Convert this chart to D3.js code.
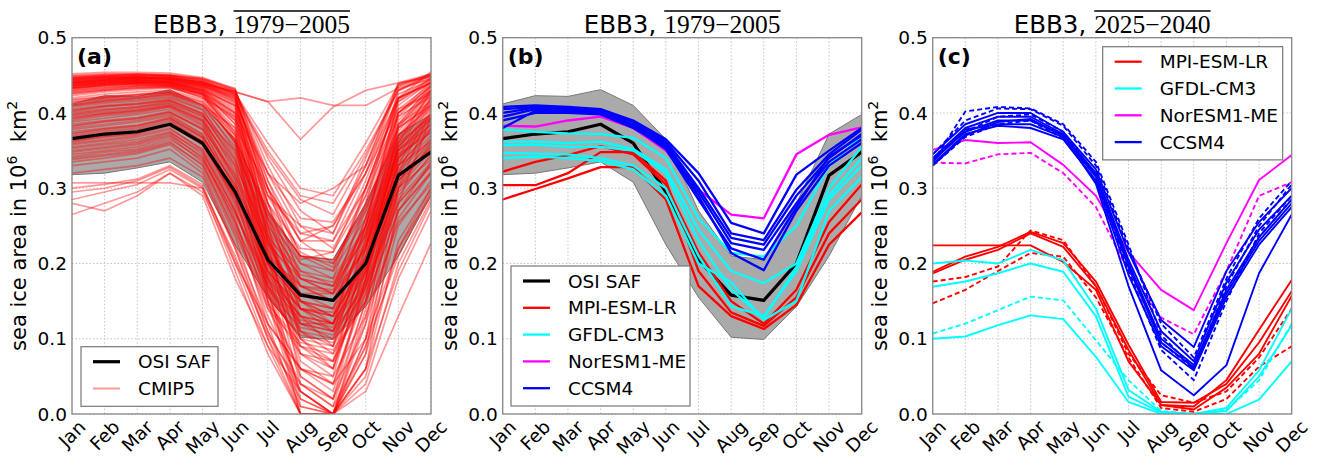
<!DOCTYPE html>
<html>
<head>
<meta charset="utf-8">
<script src="https://cdn.jsdelivr.net/npm/d3@7/dist/d3.min.js"></script>
<style>
  body { margin: 0; background: #fff; }
  svg text { font-family: "DejaVu Sans", sans-serif; fill: #000; }
</style>
</head>
<body>
<div id="chart"></div>
<script>
const months = ["Jan", "Feb", "Mar", "Apr", "May", "Jun", "Jul", "Aug", "Sep", "Oct", "Nov", "Dec"];
const yTicks = [0.0, 0.1, 0.2, 0.3, 0.4, 0.5];

// observations, mean and +-1 std band
const osiSaf = [0.366, 0.372, 0.375, 0.385, 0.36, 0.295, 0.205, 0.158, 0.151, 0.2, 0.317, 0.348];
const osiUpper = [0.412, 0.423, 0.422, 0.431, 0.41, 0.365, 0.27, 0.21, 0.205, 0.28, 0.372, 0.398];
const osiLower = [0.318, 0.32, 0.327, 0.335, 0.308, 0.225, 0.155, 0.102, 0.099, 0.143, 0.21, 0.29];

// all CMIP5 runs, 1979-2005 climatology
const cmip5 = [
  [0.450, 0.452, 0.452, 0.450, 0.445, 0.430, 0.330, 0.250, 0.240, 0.330, 0.440, 0.452],
  [0.445, 0.448, 0.449, 0.448, 0.440, 0.428, 0.415, 0.420, 0.410, 0.410, 0.433, 0.445],
  [0.442, 0.445, 0.446, 0.445, 0.438, 0.428, 0.415, 0.365, 0.408, 0.430, 0.440, 0.448],
  [0.440, 0.443, 0.444, 0.443, 0.436, 0.420, 0.310, 0.210, 0.190, 0.300, 0.420, 0.440],
  [0.438, 0.441, 0.442, 0.441, 0.432, 0.410, 0.280, 0.170, 0.150, 0.260, 0.400, 0.435],
  [0.436, 0.440, 0.441, 0.440, 0.430, 0.400, 0.250, 0.120, 0.100, 0.220, 0.380, 0.430],
  [0.434, 0.438, 0.440, 0.439, 0.428, 0.390, 0.220, 0.080, 0.050, 0.200, 0.370, 0.425],
  [0.432, 0.437, 0.439, 0.438, 0.426, 0.380, 0.200, 0.040, 0.010, 0.150, 0.350, 0.420],
  [0.430, 0.435, 0.437, 0.437, 0.425, 0.370, 0.180, 0.010, 0.000, 0.120, 0.330, 0.415],
  [0.447, 0.449, 0.450, 0.449, 0.443, 0.425, 0.350, 0.290, 0.280, 0.350, 0.430, 0.450],
  [0.444, 0.447, 0.448, 0.447, 0.440, 0.418, 0.300, 0.230, 0.200, 0.280, 0.410, 0.442],
  [0.441, 0.444, 0.445, 0.444, 0.437, 0.415, 0.270, 0.190, 0.170, 0.270, 0.405, 0.438],
  [0.439, 0.442, 0.443, 0.442, 0.434, 0.405, 0.260, 0.150, 0.130, 0.240, 0.390, 0.433],
  [0.437, 0.440, 0.442, 0.441, 0.431, 0.395, 0.240, 0.100, 0.070, 0.210, 0.375, 0.428],
  [0.435, 0.439, 0.441, 0.440, 0.429, 0.385, 0.210, 0.060, 0.030, 0.180, 0.360, 0.422],
  [0.433, 0.436, 0.438, 0.437, 0.427, 0.375, 0.190, 0.020, 0.000, 0.140, 0.340, 0.418],
  [0.431, 0.434, 0.436, 0.436, 0.424, 0.365, 0.170, 0.000, 0.000, 0.100, 0.320, 0.410],
  [0.448, 0.450, 0.451, 0.450, 0.444, 0.428, 0.320, 0.260, 0.255, 0.320, 0.435, 0.449],
  [0.446, 0.449, 0.450, 0.449, 0.442, 0.423, 0.290, 0.215, 0.195, 0.290, 0.420, 0.446],
  [0.443, 0.446, 0.447, 0.446, 0.439, 0.420, 0.300, 0.205, 0.215, 0.310, 0.425, 0.444],
  [0.440, 0.444, 0.446, 0.445, 0.436, 0.412, 0.260, 0.180, 0.160, 0.250, 0.395, 0.437],
  [0.437, 0.441, 0.443, 0.442, 0.433, 0.402, 0.235, 0.140, 0.110, 0.230, 0.385, 0.431],
  [0.434, 0.438, 0.440, 0.440, 0.430, 0.392, 0.215, 0.090, 0.060, 0.190, 0.365, 0.426],
  [0.429, 0.433, 0.436, 0.436, 0.425, 0.372, 0.160, 0.030, 0.000, 0.080, 0.300, 0.405],
  [0.427, 0.431, 0.434, 0.434, 0.422, 0.360, 0.150, 0.000, 0.000, 0.060, 0.280, 0.395],
  [0.445, 0.447, 0.447, 0.446, 0.441, 0.428, 0.340, 0.270, 0.240, 0.340, 0.438, 0.451],
  [0.442, 0.445, 0.447, 0.446, 0.438, 0.416, 0.280, 0.200, 0.180, 0.300, 0.415, 0.440],
  [0.439, 0.443, 0.444, 0.443, 0.435, 0.408, 0.255, 0.160, 0.140, 0.260, 0.400, 0.436],
  [0.436, 0.439, 0.441, 0.440, 0.432, 0.398, 0.230, 0.130, 0.090, 0.235, 0.382, 0.430],
  [0.433, 0.437, 0.439, 0.438, 0.428, 0.385, 0.205, 0.070, 0.040, 0.170, 0.355, 0.420],
  [0.420, 0.425, 0.428, 0.430, 0.418, 0.360, 0.230, 0.140, 0.120, 0.220, 0.370, 0.410],
  [0.415, 0.420, 0.424, 0.427, 0.412, 0.350, 0.210, 0.110, 0.090, 0.200, 0.355, 0.400],
  [0.410, 0.415, 0.418, 0.422, 0.405, 0.340, 0.200, 0.120, 0.110, 0.210, 0.350, 0.395],
  [0.405, 0.410, 0.413, 0.418, 0.400, 0.330, 0.180, 0.080, 0.060, 0.180, 0.340, 0.390],
  [0.400, 0.405, 0.408, 0.415, 0.395, 0.320, 0.190, 0.130, 0.120, 0.200, 0.335, 0.385],
  [0.395, 0.400, 0.404, 0.410, 0.390, 0.310, 0.160, 0.050, 0.020, 0.150, 0.320, 0.380],
  [0.390, 0.396, 0.400, 0.408, 0.385, 0.305, 0.200, 0.150, 0.140, 0.210, 0.330, 0.375],
  [0.385, 0.390, 0.394, 0.402, 0.378, 0.300, 0.170, 0.090, 0.070, 0.170, 0.310, 0.365],
  [0.380, 0.385, 0.390, 0.398, 0.372, 0.290, 0.150, 0.030, 0.000, 0.130, 0.300, 0.360],
  [0.375, 0.380, 0.384, 0.394, 0.368, 0.285, 0.180, 0.120, 0.110, 0.190, 0.315, 0.360],
  [0.370, 0.376, 0.380, 0.390, 0.362, 0.275, 0.140, 0.060, 0.040, 0.160, 0.300, 0.350],
  [0.365, 0.370, 0.375, 0.385, 0.357, 0.270, 0.160, 0.100, 0.090, 0.170, 0.290, 0.345],
  [0.360, 0.365, 0.370, 0.380, 0.350, 0.260, 0.120, 0.000, 0.000, 0.100, 0.270, 0.335],
  [0.355, 0.360, 0.365, 0.375, 0.345, 0.255, 0.150, 0.080, 0.070, 0.160, 0.280, 0.330],
  [0.350, 0.355, 0.360, 0.372, 0.340, 0.250, 0.130, 0.040, 0.020, 0.120, 0.260, 0.320],
  [0.345, 0.350, 0.355, 0.368, 0.335, 0.240, 0.140, 0.090, 0.080, 0.150, 0.270, 0.320],
  [0.340, 0.345, 0.350, 0.362, 0.330, 0.235, 0.110, 0.010, 0.000, 0.090, 0.250, 0.310],
  [0.335, 0.340, 0.346, 0.358, 0.325, 0.225, 0.120, 0.060, 0.050, 0.130, 0.255, 0.305],
  [0.330, 0.335, 0.340, 0.352, 0.320, 0.220, 0.100, 0.000, 0.000, 0.060, 0.230, 0.300],
  [0.418, 0.422, 0.425, 0.428, 0.415, 0.370, 0.260, 0.200, 0.190, 0.260, 0.380, 0.412],
  [0.412, 0.417, 0.420, 0.424, 0.408, 0.355, 0.240, 0.170, 0.160, 0.240, 0.365, 0.405],
  [0.402, 0.408, 0.412, 0.417, 0.398, 0.335, 0.220, 0.160, 0.150, 0.230, 0.350, 0.392],
  [0.392, 0.398, 0.402, 0.408, 0.388, 0.315, 0.210, 0.170, 0.150, 0.220, 0.340, 0.380],
  [0.382, 0.388, 0.392, 0.400, 0.378, 0.300, 0.190, 0.140, 0.130, 0.200, 0.325, 0.370],
  [0.372, 0.378, 0.382, 0.392, 0.366, 0.280, 0.170, 0.110, 0.100, 0.180, 0.305, 0.355],
  [0.320, 0.325, 0.330, 0.340, 0.315, 0.220, 0.110, 0.030, 0.000, 0.080, 0.220, 0.290],
  [0.307, 0.307, 0.307, 0.307, 0.300, 0.210, 0.100, 0.020, 0.000, 0.050, 0.200, 0.285],
  [0.300, 0.305, 0.312, 0.330, 0.305, 0.200, 0.090, 0.000, 0.000, 0.040, 0.180, 0.270],
  [0.285, 0.295, 0.305, 0.325, 0.300, 0.190, 0.080, 0.000, 0.000, 0.030, 0.130, 0.227],
  [0.280, 0.270, 0.290, 0.320, 0.290, 0.180, 0.090, 0.030, 0.000, 0.060, 0.190, 0.280],
  [0.265, 0.280, 0.295, 0.320, 0.295, 0.200, 0.120, 0.060, 0.040, 0.100, 0.220, 0.300],
  [0.295, 0.300, 0.310, 0.328, 0.302, 0.205, 0.105, 0.040, 0.010, 0.090, 0.210, 0.295],
  [0.446, 0.448, 0.449, 0.448, 0.442, 0.426, 0.360, 0.300, 0.290, 0.360, 0.438, 0.450],
  [0.443, 0.446, 0.447, 0.446, 0.440, 0.422, 0.345, 0.285, 0.265, 0.345, 0.430, 0.447],
  [0.428, 0.432, 0.435, 0.436, 0.426, 0.400, 0.320, 0.280, 0.300, 0.330, 0.420, 0.440],
  [0.410, 0.416, 0.420, 0.425, 0.410, 0.380, 0.300, 0.230, 0.230, 0.300, 0.400, 0.430],
  [0.452, 0.454, 0.454, 0.453, 0.447, 0.432, 0.280, 0.150, 0.120, 0.250, 0.420, 0.455],
  [0.425, 0.430, 0.433, 0.435, 0.420, 0.395, 0.290, 0.240, 0.250, 0.320, 0.405, 0.425],
  [0.398, 0.404, 0.408, 0.413, 0.396, 0.350, 0.250, 0.190, 0.180, 0.250, 0.360, 0.395],
  [0.362, 0.368, 0.372, 0.383, 0.360, 0.290, 0.200, 0.150, 0.130, 0.200, 0.310, 0.350],
  [0.342, 0.348, 0.352, 0.365, 0.338, 0.265, 0.180, 0.130, 0.110, 0.170, 0.280, 0.330],
  [0.433, 0.437, 0.439, 0.438, 0.430, 0.410, 0.240, 0.110, 0.080, 0.190, 0.360, 0.430],
  [0.423, 0.428, 0.431, 0.433, 0.421, 0.375, 0.270, 0.210, 0.200, 0.270, 0.385, 0.415],
  [0.417, 0.421, 0.424, 0.428, 0.414, 0.362, 0.245, 0.180, 0.170, 0.250, 0.370, 0.408],
  [0.408, 0.413, 0.416, 0.420, 0.404, 0.345, 0.230, 0.170, 0.165, 0.240, 0.355, 0.398],
  [0.403, 0.409, 0.411, 0.416, 0.399, 0.338, 0.225, 0.150, 0.140, 0.225, 0.345, 0.393],
  [0.397, 0.402, 0.406, 0.412, 0.392, 0.325, 0.215, 0.160, 0.150, 0.225, 0.340, 0.386],
  [0.388, 0.393, 0.398, 0.405, 0.383, 0.312, 0.200, 0.140, 0.130, 0.205, 0.330, 0.378],
  [0.378, 0.383, 0.388, 0.396, 0.371, 0.295, 0.185, 0.130, 0.120, 0.195, 0.320, 0.366],
  [0.368, 0.374, 0.378, 0.388, 0.362, 0.282, 0.175, 0.125, 0.115, 0.185, 0.310, 0.356],
  [0.358, 0.363, 0.368, 0.378, 0.352, 0.268, 0.165, 0.115, 0.105, 0.175, 0.295, 0.342],
  [0.348, 0.353, 0.358, 0.370, 0.342, 0.255, 0.155, 0.105, 0.095, 0.165, 0.285, 0.334],
  [0.338, 0.343, 0.348, 0.360, 0.332, 0.245, 0.145, 0.095, 0.085, 0.150, 0.270, 0.322],
  [0.426, 0.430, 0.433, 0.434, 0.424, 0.390, 0.280, 0.220, 0.215, 0.290, 0.395, 0.422],
  [0.414, 0.419, 0.422, 0.426, 0.411, 0.365, 0.265, 0.210, 0.205, 0.275, 0.380, 0.410],
  [0.393, 0.399, 0.403, 0.410, 0.390, 0.330, 0.235, 0.185, 0.175, 0.245, 0.350, 0.384],
  [0.383, 0.389, 0.393, 0.401, 0.380, 0.318, 0.225, 0.180, 0.170, 0.235, 0.345, 0.374],
  [0.373, 0.379, 0.383, 0.393, 0.368, 0.305, 0.210, 0.160, 0.160, 0.220, 0.330, 0.362],
  [0.363, 0.369, 0.373, 0.384, 0.358, 0.288, 0.190, 0.140, 0.135, 0.205, 0.315, 0.352],
  [0.353, 0.358, 0.362, 0.374, 0.348, 0.270, 0.170, 0.120, 0.120, 0.190, 0.300, 0.338],
  [0.449, 0.451, 0.452, 0.451, 0.446, 0.432, 0.300, 0.180, 0.160, 0.280, 0.430, 0.452],
  [0.444, 0.447, 0.448, 0.447, 0.441, 0.426, 0.270, 0.140, 0.120, 0.250, 0.415, 0.446],
  [0.441, 0.444, 0.446, 0.445, 0.439, 0.424, 0.250, 0.100, 0.060, 0.220, 0.400, 0.441],
  [0.438, 0.442, 0.444, 0.443, 0.436, 0.418, 0.230, 0.050, 0.020, 0.180, 0.385, 0.436],
  [0.436, 0.440, 0.442, 0.441, 0.434, 0.414, 0.320, 0.240, 0.230, 0.320, 0.420, 0.440],
  [0.447, 0.450, 0.451, 0.450, 0.445, 0.430, 0.310, 0.230, 0.250, 0.330, 0.436, 0.452],
  [0.440, 0.443, 0.445, 0.444, 0.437, 0.422, 0.290, 0.250, 0.220, 0.300, 0.418, 0.443],
];

// selected models, 1979-2005
const mpiHist = [
  [0.322, 0.335, 0.344, 0.356, 0.345, 0.305, 0.215, 0.15, 0.12, 0.165, 0.255, 0.305],
  [0.304, 0.304, 0.32, 0.348, 0.348, 0.31, 0.19, 0.135, 0.117, 0.155, 0.24, 0.285],
  [0.285, 0.299, 0.313, 0.328, 0.328, 0.285, 0.17, 0.13, 0.113, 0.145, 0.225, 0.268],
];
const gfdlHist = [
  [0.378, 0.375, 0.373, 0.372, 0.367, 0.34, 0.26, 0.214, 0.209, 0.25, 0.33, 0.37],
  [0.362, 0.362, 0.36, 0.362, 0.352, 0.325, 0.245, 0.19, 0.174, 0.2, 0.3, 0.355],
  [0.357, 0.358, 0.355, 0.355, 0.35, 0.32, 0.23, 0.165, 0.128, 0.195, 0.29, 0.34],
  [0.347, 0.346, 0.345, 0.34, 0.33, 0.3, 0.21, 0.143, 0.13, 0.19, 0.285, 0.33],
  [0.34, 0.342, 0.34, 0.336, 0.325, 0.29, 0.2, 0.175, 0.125, 0.15, 0.27, 0.315],
];
const norHist = [
  [0.383, 0.382, 0.39, 0.395, 0.38, 0.35, 0.298, 0.265, 0.26, 0.345, 0.371, 0.381],
];
const ccsmHist = [
  [0.408, 0.41, 0.408, 0.405, 0.39, 0.365, 0.32, 0.254, 0.24, 0.318, 0.35, 0.38],
  [0.405, 0.408, 0.407, 0.403, 0.388, 0.362, 0.31, 0.24, 0.231, 0.298, 0.345, 0.378],
  [0.4, 0.407, 0.405, 0.402, 0.385, 0.36, 0.3, 0.234, 0.225, 0.29, 0.34, 0.372],
  [0.395, 0.405, 0.404, 0.4, 0.383, 0.357, 0.295, 0.227, 0.218, 0.28, 0.335, 0.365],
  [0.39, 0.4, 0.4, 0.398, 0.38, 0.355, 0.29, 0.214, 0.191, 0.27, 0.33, 0.36],
  [0.38, 0.403, 0.402, 0.4, 0.382, 0.352, 0.285, 0.22, 0.205, 0.275, 0.342, 0.37],
];

// selected models, 2025-2040 (solid and dashed runs)
const mpiFutSolid = [
  [0.224, 0.224, 0.224, 0.224, 0.202, 0.165, 0.07, 0.012, 0.01, 0.045, 0.112, 0.178],
  [0.189, 0.209, 0.222, 0.242, 0.227, 0.176, 0.092, 0.016, 0.015, 0.04, 0.095, 0.163],
  [0.187, 0.205, 0.218, 0.24, 0.222, 0.17, 0.085, 0.012, 0.006, 0.035, 0.08, 0.157],
];
const mpiFutDashed = [
  [0.176, 0.182, 0.196, 0.244, 0.231, 0.17, 0.08, 0.025, 0.015, 0.03, 0.075, 0.14],
  [0.147, 0.165, 0.19, 0.214, 0.209, 0.155, 0.075, 0.008, 0.003, 0.02, 0.063, 0.09],
];
const gfdlFutSolid = [
  [0.2, 0.204, 0.2, 0.218, 0.204, 0.14, 0.032, 0.003, 0.0, 0.008, 0.058, 0.14],
  [0.169, 0.176, 0.187, 0.2, 0.189, 0.13, 0.023, 0.002, 0.0, 0.004, 0.05, 0.118],
  [0.1, 0.103, 0.118, 0.131, 0.126, 0.076, 0.016, 0.0, 0.0, 0.0, 0.019, 0.07],
];
const gfdlFutDashed = [
  [0.107, 0.12, 0.138, 0.156, 0.151, 0.098, 0.045, 0.004, 0.0, 0.005, 0.045, 0.12],
];
const norFutSolid = [
  [0.351, 0.364, 0.36, 0.361, 0.331, 0.29, 0.215, 0.165, 0.138, 0.227, 0.311, 0.344],
];
const norFutDashed = [
  [0.334, 0.333, 0.345, 0.347, 0.32, 0.275, 0.19, 0.128, 0.106, 0.19, 0.29, 0.308],
];
const ccsmFutSolid = [
  [0.345, 0.385, 0.4, 0.4, 0.375, 0.325, 0.215, 0.125, 0.089, 0.19, 0.255, 0.3],
  [0.34, 0.38, 0.395, 0.395, 0.372, 0.32, 0.205, 0.11, 0.07, 0.175, 0.245, 0.29],
  [0.338, 0.375, 0.39, 0.39, 0.37, 0.318, 0.2, 0.1, 0.065, 0.165, 0.235, 0.285],
  [0.335, 0.378, 0.385, 0.385, 0.368, 0.315, 0.195, 0.095, 0.062, 0.16, 0.23, 0.28],
  [0.332, 0.372, 0.383, 0.38, 0.365, 0.31, 0.185, 0.09, 0.058, 0.155, 0.225, 0.275],
  [0.33, 0.37, 0.388, 0.392, 0.37, 0.306, 0.17, 0.058, 0.025, 0.065, 0.187, 0.265],
];
const ccsmFutDashed = [
  [0.345, 0.39, 0.406, 0.405, 0.383, 0.33, 0.22, 0.12, 0.075, 0.18, 0.26, 0.31],
  [0.335, 0.402, 0.408, 0.406, 0.385, 0.335, 0.225, 0.105, 0.06, 0.17, 0.25, 0.305],
  [0.33, 0.368, 0.385, 0.39, 0.366, 0.31, 0.19, 0.085, 0.045, 0.15, 0.24, 0.29],
  [0.34, 0.375, 0.395, 0.398, 0.375, 0.318, 0.2, 0.095, 0.06, 0.16, 0.235, 0.285],
];

const svg = d3
  .select("#chart")
  .append("svg")
  .attr("width", 1320)
  .attr("height", 459);

class SeaIcePanel {
  constructor(svg, left, letter, period) {
    this.svg = svg;
    this.left = left;
    this.letter = letter;
    this.period = period;
    this.initVis();
  }

  initVis() {
    let vis = this;

    vis.width = 359;
    vis.top = 37.7;
    vis.bottom = 414;

    vis.x = d3.scalePoint().domain(months).range([vis.left, vis.left + vis.width]);
    vis.y = d3.scaleLinear().domain([0, 0.5]).range([vis.bottom, vis.top]);

    vis.line = d3
      .line()
      .x((d, i) => vis.x(months[i]))
      .y((d) => vis.y(d));

    vis.svg
      .append("clipPath")
      .attr("id", "clip-" + vis.letter)
      .append("rect")
      .attr("x", vis.left)
      .attr("y", vis.top)
      .attr("width", vis.width)
      .attr("height", vis.bottom - vis.top);

    // dotted grid
    let grid = vis.svg.append("g").attr("class", "grid");
    grid
      .selectAll(".vgrid")
      .data(months)
      .join("line")
      .attr("x1", (d) => vis.x(d))
      .attr("x2", (d) => vis.x(d))
      .attr("y1", vis.top)
      .attr("y2", vis.bottom);
    grid
      .selectAll(".hgrid")
      .data(yTicks)
      .join("line")
      .attr("x1", vis.left)
      .attr("x2", vis.left + vis.width)
      .attr("y1", (d) => vis.y(d))
      .attr("y2", (d) => vis.y(d));
    grid
      .selectAll("line")
      .attr("stroke", "#c4c4c4")
      .attr("stroke-width", 1)
      .attr("stroke-dasharray", "1.5,2");

    vis.plot = vis.svg.append("g").attr("clip-path", `url(#clip-${vis.letter})`);
    vis.front = vis.svg.append("g");

    vis.front
      .append("rect")
      .attr("x", vis.left)
      .attr("y", vis.top)
      .attr("width", vis.width)
      .attr("height", vis.bottom - vis.top)
      .attr("fill", "none")
      .attr("stroke", "#888")
      .attr("stroke-width", 1.3);

    // y tick labels
    vis.front
      .selectAll(".ytick")
      .data(yTicks)
      .join("text")
      .attr("x", vis.left - 5)
      .attr("y", (d) => vis.y(d))
      .attr("dy", "0.36em")
      .attr("text-anchor", "end")
      .style("font-size", "18.5px")
      .text((d) => d.toFixed(1));

    // rotated month labels, centred under the tick like matplotlib
    vis.front
      .selectAll(".xtick")
      .data(months)
      .join("text")
      .attr("text-anchor", "middle")
      .attr("dominant-baseline", "central")
      .style("font-size", "18.5px")
      .text((d) => d)
      .each(function (d) {
        let w = this.getComputedTextLength();
        let cx = vis.x(d);
        let cy = vis.bottom + 3 + (w + 19) * 0.3536;
        d3.select(this)
          .attr("x", cx)
          .attr("y", cy)
          .attr("transform", `rotate(-45,${cx},${cy})`);
      });

    // y axis label
    let ly = (vis.top + vis.bottom) / 2;
    let lx = vis.left - 46;
    let ylab = vis.front
      .append("text")
      .attr("transform", `translate(${lx},${ly}) rotate(-90)`)
      .attr("text-anchor", "middle")
      .style("font-size", "21px");
    ylab.append("tspan").text("sea ice area in 10");
    ylab.append("tspan").attr("dy", -9).style("font-size", "14px").text("6");
    ylab.append("tspan").attr("dy", 9).text("\u00a0\u00a0km");
    ylab.append("tspan").attr("dy", -9).style("font-size", "14px").text("2");

    // title: "EBB3, " + overlined period
    let cx = vis.left + vis.width / 2;
    let t1 = vis.front
      .append("text")
      .attr("y", 33)
      .style("font-size", "24.5px")
      .text("EBB3,");
    let t2 = vis.front
      .append("text")
      .attr("y", 33)
      .style("font-family", "'Liberation Serif', serif")
      .style("font-size", "25.5px")
      .text(vis.period);
    let w1 = t1.node().getComputedTextLength();
    let w2 = t2.node().getComputedTextLength();
    let gap = 8;
    let start = cx - (w1 + gap + w2) / 2;
    t1.attr("x", start);
    t2.attr("x", start + w1 + gap);
    vis.front
      .append("line")
      .attr("x1", start + w1 + gap)
      .attr("x2", start + w1 + gap + w2)
      .attr("y1", 11)
      .attr("y2", 11)
      .attr("stroke", "#000")
      .attr("stroke-width", 1.3);

    vis.front
      .append("text")
      .attr("x", vis.left + 5)
      .attr("y", 64)
      .style("font-size", "22px")
      .style("font-weight", "bold")
      .text(`(${vis.letter})`);
  }

  addBand(upper, lower) {
    let vis = this;
    let area = d3
      .area()
      .x((d, i) => vis.x(months[i]))
      .y0((d) => vis.y(d[0]))
      .y1((d) => vis.y(d[1]));
    vis.plot
      .append("path")
      .datum(lower.map((d, i) => [d, upper[i]]))
      .attr("d", area)
      .attr("fill", "#aaa")
      .attr("stroke", "#777")
      .attr("stroke-width", 1);
  }

  addLines(series, color, width, opacity, dash) {
    let vis = this;
    vis.plot
      .append("g")
      .selectAll("path")
      .data(series)
      .join("path")
      .attr("d", vis.line)
      .attr("fill", "none")
      .attr("stroke", color)
      .attr("stroke-width", width)
      .attr("stroke-opacity", opacity)
      .attr("stroke-dasharray", dash || null)
      .attr("stroke-linejoin", "round");
  }

  addLegend(x, y, w, entries) {
    let vis = this;
    let step = 26.8;
    let g = vis.front.append("g");
    g.append("rect")
      .attr("x", x)
      .attr("y", y)
      .attr("width", w)
      .attr("height", entries.length * step + 6)
      .attr("fill", "#fff")
      .attr("stroke", "#777")
      .attr("stroke-width", 1.2);
    entries.forEach((e, i) => {
      let cy = y + 15 + i * step;
      g.append("line")
        .attr("x1", x + 12)
        .attr("x2", x + 39)
        .attr("y1", cy)
        .attr("y2", cy)
        .attr("stroke", e.color)
        .attr("stroke-width", e.width)
        .attr("stroke-opacity", e.opacity || 1);
      g.append("text")
        .attr("x", x + 57)
        .attr("y", cy)
        .attr("dy", "0.36em")
        .style("font-size", "18.5px")
        .text(e.label);
    });
  }
}

const periodHist = "1979\u22122005";
const periodFut = "2025\u22122040";

// (a) all CMIP5 runs against OSI SAF
const panelA = new SeaIcePanel(svg, 72, "a", periodHist);
panelA.addBand(osiUpper, osiLower);
panelA.addLines(cmip5, "#ff0000", 1.7, 0.4);
panelA.addLines([osiSaf], "#000", 3.2, 1);
panelA.addLegend(81, 346.7, 137, [
  { label: "OSI SAF", color: "#000", width: 3.2 },
  { label: "CMIP5", color: "#ff0000", width: 2, opacity: 0.4 },
]);

// (b) selected models
const panelB = new SeaIcePanel(svg, 502.7, "b", periodHist);
panelB.addBand(osiUpper, osiLower);
panelB.addLines([osiSaf], "#000", 3.2, 1);
panelB.addLines(mpiHist, "#ff0000", 2.3, 1);
panelB.addLines(gfdlHist, "#00ffff", 2.3, 1);
panelB.addLines(norHist, "#ff00ff", 2.3, 1);
panelB.addLines(ccsmHist, "#0000ff", 2.3, 1);
panelB.addLegend(511, 266, 179, [
  { label: "OSI SAF", color: "#000", width: 3.2 },
  { label: "MPI-ESM-LR", color: "#ff0000", width: 2.3 },
  { label: "GFDL-CM3", color: "#00ffff", width: 2.3 },
  { label: "NorESM1-ME", color: "#ff00ff", width: 2.3 },
  { label: "CCSM4", color: "#0000ff", width: 2.3 },
]);

// (c) selected models, near future
const panelC = new SeaIcePanel(svg, 932.7, "c", periodFut);
panelC.addLines(mpiFutSolid, "#ff0000", 1.9, 1);
panelC.addLines(mpiFutDashed, "#ff0000", 1.9, 1, "5,3");
panelC.addLines(gfdlFutSolid, "#00ffff", 1.9, 1);
panelC.addLines(gfdlFutDashed, "#00ffff", 1.9, 1, "5,3");
panelC.addLines(norFutSolid, "#ff00ff", 1.9, 1);
panelC.addLines(norFutDashed, "#ff00ff", 1.9, 1, "5,3");
panelC.addLines(ccsmFutSolid, "#0000ff", 1.9, 1);
panelC.addLines(ccsmFutDashed, "#0000ff", 1.9, 1, "5,3");
panelC.addLegend(1102.7, 46.7, 180, [
  { label: "MPI-ESM-LR", color: "#ff0000", width: 2.3 },
  { label: "GFDL-CM3", color: "#00ffff", width: 2.3 },
  { label: "NorESM1-ME", color: "#ff00ff", width: 2.3 },
  { label: "CCSM4", color: "#0000ff", width: 2.3 },
]);
</script>
</body>
</html>
